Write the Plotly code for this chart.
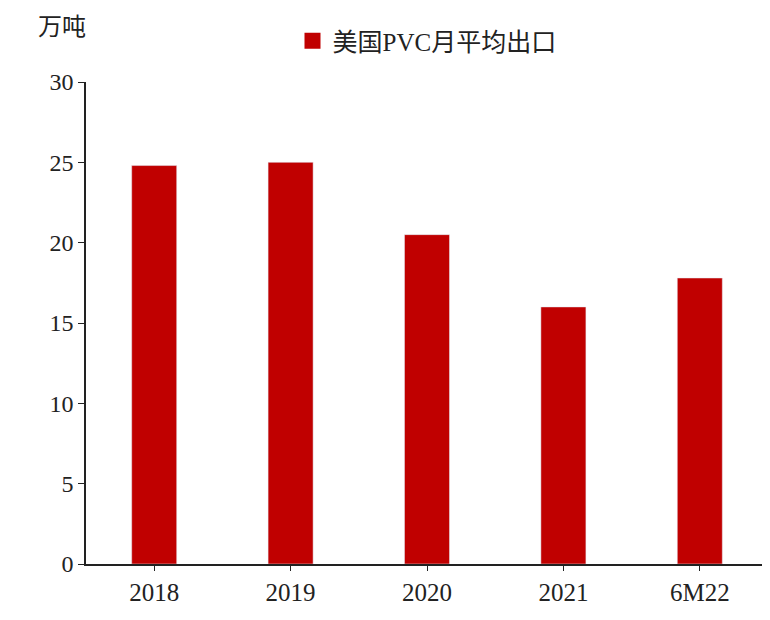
import plotly.graph_objects as go

# 美国PVC月平均出口（万吨）
years = ['2018', '2019', '2020', '2021', '6M22']
exports = [24.8, 25.0, 20.5, 16.0, 17.8]
y_ticks = [0, 5, 10, 15, 20, 25, 30]

font_fam = "Liberation Serif, Noto Sans CJK SC, serif"
red = '#c00000'

fig = go.Figure()
fig.add_trace(go.Bar(
    x=years,
    y=exports,
    name='美国PVC月平均出口',
    marker_color=red,
    width=0.33,
    showlegend=False,
))
# 图例用的方块
fig.add_trace(go.Scatter(
    x=[None], y=[None], mode='markers',
    marker=dict(symbol='square', size=18, color=red),
    name='美国PVC月平均出口',
))

fig.update_layout(
    width=770, height=620,
    margin=dict(l=78, r=10, t=46, b=64),
    plot_bgcolor='white',
    paper_bgcolor='white',
    font=dict(family=font_fam, size=24, color='#222'),
    showlegend=True,
    legend=dict(orientation='h', x=0.5, xanchor='center', y=1.085, yanchor='middle',
                font=dict(size=25), itemsizing='trace'),
    xaxis=dict(showline=True, linecolor='#222', linewidth=1.5, ticks='outside',
               ticklen=5, tickcolor='#222', tickfont=dict(size=25)),
    yaxis=dict(range=[0, 30], tickvals=y_ticks, showline=True, linecolor='#222',
               linewidth=1.5, ticks='outside', ticklen=6, tickcolor='#222',
               showgrid=False, zeroline=False, tickfont=dict(size=24)),
    annotations=[dict(text='万吨', xref='paper', yref='paper', x=-0.035, y=1.115,
                      xanchor='center', yanchor='middle', showarrow=False,
                      font=dict(size=24))],
)

fig.write_html("out.html")
